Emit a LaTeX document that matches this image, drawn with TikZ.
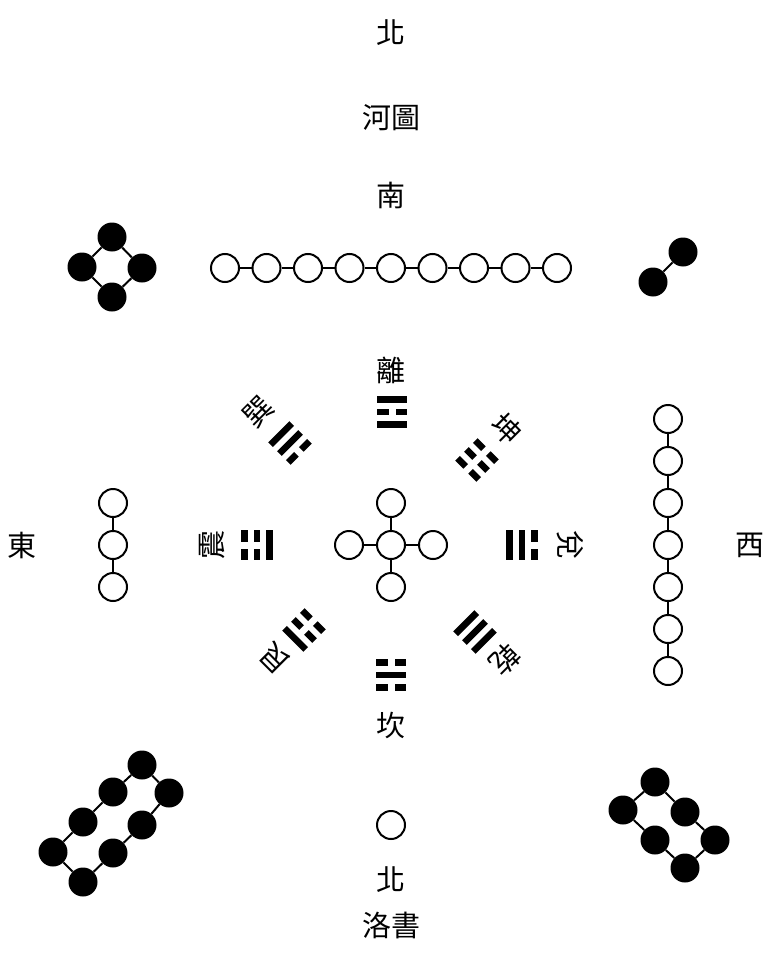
\documentclass[tikz,border=0pt]{standalone}
\usepackage{fontspec}
\newfontfamily\cjk{Noto Sans CJK TC}

\tikzset{
  open/.style={circle,draw,line width=2pt,minimum size=28pt,inner sep=0pt},
  dot/.style={circle,fill,minimum size=29pt,inner sep=0pt},
  link/.style={line width=2pt},
  word/.style={font=\cjk\fontsize{29}{32}\selectfont,inner sep=0pt}
}

% trigram: x, y, rotation, lines from inner to outer (1 solid, 0 broken)
\newcommand{\trigram}[6]{
  \begin{scope}[shift={(#1,#2)},rotate=#3]
    \foreach \b [count=\i] in {#4,#5,#6} {
      \pgfmathsetmacro{\yy}{(2-\i)*12.5}
      \ifnum\b=1
        \fill (-15,\yy-3.3) rectangle (15,\yy+3.3);
      \else
        \fill (-15,\yy-3.3) rectangle (-3.5,\yy+3.3);
        \fill (3.5,\yy-3.3) rectangle (15,\yy+3.3);
      \fi
    }
  \end{scope}
}

\begin{document}
\begin{tikzpicture}[x=1pt,y=-1pt]
  \useasboundingbox (0,0) rectangle (773,979);

  % titles and directions
  \node[word] (north) at (391,33) {北};
  \node[word] (hetu) at (391,118) {河圖};
  \node[word] (south) at (391,195) {南};
  \node[word] (east) at (22,545) {東};
  \node[word] (west) at (750,545) {西};
  \node[word] (north2) at (391,880) {北};
  \node[word] (luoshu) at (391,925) {洛書};

  % nine at the top
  \foreach \i in {1,...,9}
    \node[open] (r\i) at ({225+41.5*(\i-1)},268) {};
  \foreach \i [evaluate=\i as \j using int(\i+1)] in {1,...,8}
    \draw[link] (r\i) -- (r\j);

  % four, top left
  \node[dot] (tl1) at (112,237) {};
  \node[dot] (tl2) at (82,267) {};
  \node[dot] (tl3) at (142,268) {};
  \node[dot] (tl4) at (112,297) {};
  \draw[link] (tl1) -- (tl2) -- (tl4) -- (tl3) -- (tl1);

  % two, top right
  \node[dot] (tr1) at (683,252) {};
  \node[dot] (tr2) at (653,282) {};
  \draw[link] (tr1) -- (tr2);

  % five in the centre
  \node[open] (c0) at (391,545) {};
  \node[open] (c1) at (391,503) {};
  \node[open] (c2) at (349,545) {};
  \node[open] (c3) at (433,545) {};
  \node[open] (c4) at (391,587) {};
  \foreach \k in {1,...,4}
    \draw[link] (c0) -- (c\k);

  % three, east
  \foreach \i in {1,2,3}
    \node[open] (l\i) at (113,{503+42*(\i-1)}) {};
  \draw[link] (l1) -- (l2) -- (l3);

  % seven, west
  \foreach \i in {1,...,7}
    \node[open] (w\i) at (668,{419+42*(\i-1)}) {};
  \foreach \i [evaluate=\i as \j using int(\i+1)] in {1,...,6}
    \draw[link] (w\i) -- (w\j);

  % eight, bottom left
  \node[dot] (bl1) at (53,852) {};
  \node[dot] (bl2) at (83,822) {};
  \node[dot] (bl3) at (113,792) {};
  \node[dot] (bl4) at (142,765) {};
  \node[dot] (bl5) at (169,793) {};
  \node[dot] (bl6) at (142,825) {};
  \node[dot] (bl7) at (113,853) {};
  \node[dot] (bl8) at (83,882) {};
  \draw[link] (bl1) -- (bl2) -- (bl3) -- (bl4) -- (bl5) -- (bl6) -- (bl7) -- (bl8) -- (bl1);

  % six, bottom right
  \node[dot] (br1) at (655,782) {};
  \node[dot] (br2) at (623,810) {};
  \node[dot] (br3) at (655,840) {};
  \node[dot] (br4) at (685,868) {};
  \node[dot] (br5) at (715,840) {};
  \node[dot] (br6) at (685,812) {};
  \draw[link] (br1) -- (br2) -- (br3) -- (br4) -- (br5) -- (br6) -- (br1);

  % one, bottom
  \node[open] (s1) at (391,825) {};

  % the eight trigrams
  \trigram{392}{412}{0}{1}{0}{1}
  \trigram{391}{675}{180}{0}{1}{0}
  \trigram{257}{545}{90}{1}{0}{0}
  \trigram{522}{545}{-90}{1}{1}{0}
  \trigram{290}{443}{45}{0}{1}{1}
  \trigram{477}{460}{-45}{0}{0}{0}
  \trigram{304}{630}{135}{0}{0}{1}
  \trigram{475}{632}{-135}{1}{1}{1}

  \node[word] (li) at (391,370) {離};
  \node[word] (kan) at (391,725) {坎};
  \node[word,rotate=90] (zhen) at (212,545) {震};
  \node[word,rotate=-90] (dui) at (570,545) {兌};
  \node[word,rotate=45] (xun) at (258,412) {巽};
  \node[word,rotate=-45] (kun) at (507,429) {坤};
  \node[word,rotate=135] (gen) at (275,658) {艮};
  \node[word,rotate=-135] (qian) at (505,660) {乾};
\end{tikzpicture}
\end{document}
